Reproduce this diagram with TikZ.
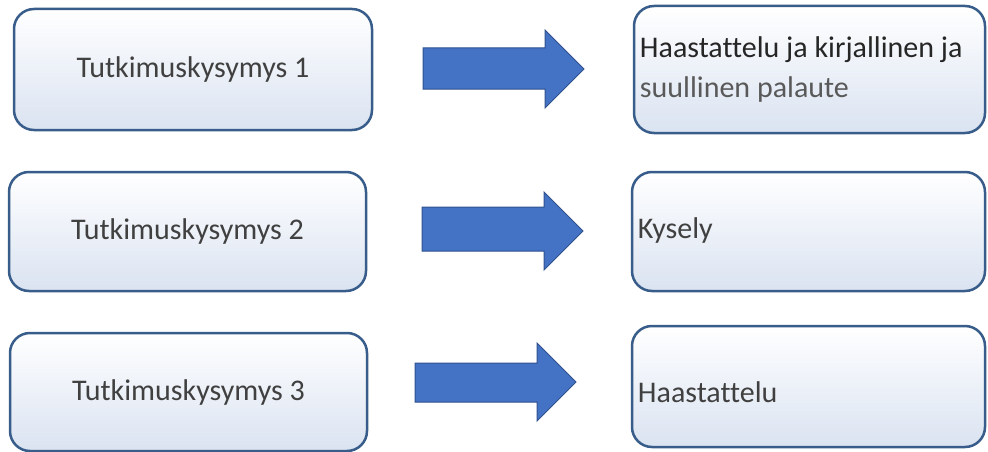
\documentclass[tikz,border=0pt]{standalone}
\usepackage{fontspec}
\setmainfont{Carlito}[Ligatures=NoCommon]
\definecolor{reuna}{HTML}{385D8A}
\definecolor{pohja}{HTML}{DAE3F1}
\definecolor{nuolisini}{HTML}{4472C4}
\definecolor{nuolireuna}{HTML}{2F528F}
\definecolor{teksti}{HTML}{404040}
\definecolor{tumma}{HTML}{262626}
\definecolor{harmaa}{HTML}{595959}
\begin{document}
\begin{tikzpicture}[x=1pt, y=-1pt]
\tikzstyle{laatikko}=[draw=reuna, line width=2.5pt, rounded corners=20pt, top color=white, bottom color=pohja, inner sep=0, text=teksti, font=\fontsize{30}{40}\selectfont]
\tikzstyle{vastaus}=[anchor=west, inner sep=0, text=teksti, font=\fontsize{30}{40}\selectfont, align=left]
\tikzstyle{nuoli}=[fill=nuolisini, draw=nuolireuna, line width=1pt, line join=miter]
\useasboundingbox (0,0) rectangle (988,452);
% kysymykset
\node[laatikko, minimum width=358pt, minimum height=121pt] (k1) at (193,69.5) {Tutkimuskysymys 1\hspace{12pt}};
\node[laatikko, minimum width=357pt, minimum height=119pt] (k2) at (187.5,231.5) {Tutkimuskysymys 2\hspace{4pt}};
\node[laatikko, minimum width=357pt, minimum height=118pt] (k3) at (188.5,392) {Tutkimuskysymys 3\hspace{6pt}};
% menetelmat
\node[laatikko, minimum width=351pt, minimum height=127pt] (m1) at (809.5,69.5) {};
\node[laatikko, minimum width=353pt, minimum height=119pt] (m2) at (808.5,231.5) {};
\node[laatikko, minimum width=353pt, minimum height=121pt] (m3) at (808.5,386.5) {};
\node[vastaus, text=tumma] (t1) at ([xshift=7pt]m1.west) {Haastattelu ja kirjallinen ja\\{\color{harmaa}suullinen palaute}};
\node[vastaus] (t2) at ([xshift=7pt, yshift=1pt]m2.west) {Kysely};
\node[vastaus] (t3) at ([xshift=7pt, yshift=-6pt]m3.west) {Haastattelu};
% nuolet
\draw[nuoli] (423,48)--(545,48)--(545,30)--(584,69)--(545,108)--(545,89)--(423,89)--cycle;
\draw[nuoli] (422,207)--(544,207)--(544,192)--(583,231)--(544,270)--(544,251)--(422,251)--cycle;
\draw[nuoli] (415,363)--(537,363)--(537,343)--(576,382)--(537,421)--(537,402)--(415,402)--cycle;
\end{tikzpicture}
\end{document}
